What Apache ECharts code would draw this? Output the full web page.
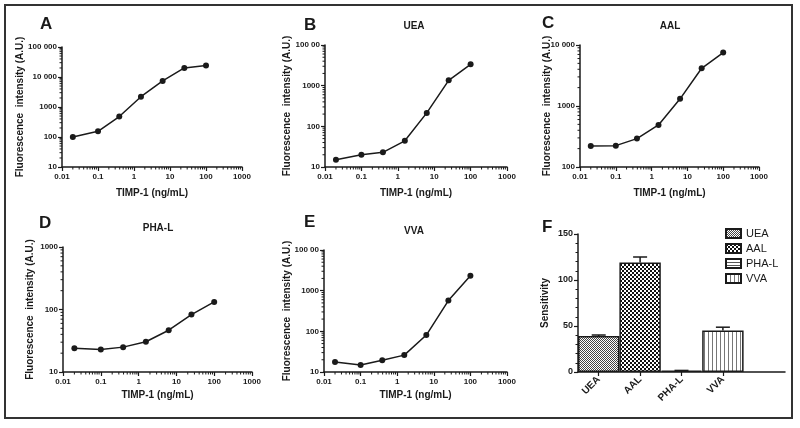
<!DOCTYPE html>
<html><head><meta charset="utf-8">
<script src="https://cdn.jsdelivr.net/npm/echarts@6/dist/echarts.min.js"></script>
<style>html,body{margin:0;padding:0;background:#fff}#c{width:800px;height:428px}</style>
</head><body><div id="c"></div>
<script>
// ---------- data ----------
const concentrations = [0.02, 0.1, 0.39, 1.56, 6.25, 25, 100];
const valuesA = [100, 155, 480, 2200, 7400, 20000, 24000];
const valuesUEA = [15, 20, 23, 44, 214, 1350, 3340];
const valuesAAL = [221, 224, 292, 490, 1310, 4150, 7500];
const valuesPHAL = [24, 23, 25, 30.5, 46.6, 83, 132];
const valuesVVA = [17.6, 14.9, 19.4, 26, 81, 571, 2320];

const xTickLabels = ['0.01', '0.1', '1', '10', '100', '1000']; // 10^-2 .. 10^3
const yTickLabelsA = ['10', '100', '1000', '10 000', '100 000'];
const yTickLabelsB = ['10', '100', '1000', '100 00'];
const yTickLabelsC = ['100', '1000', '10 000'];
const yTickLabelsD = ['10', '100', '1000'];
const yTickLabelsE = ['10', '100', '1000', '100 00'];

const categories = ['UEA', 'AAL', 'PHA-L', 'VVA', ''];
const lectins = ['UEA', 'AAL', 'PHA-L', 'VVA'];
const sensitivity = [39, 119, 1.4, 45];
const sensitivityError = [1.2, 6, 0.3, 3.7];
const sensitivityTicks = [0, 50, 100, 150];

const minorMultipliers = [2, 3, 4, 5, 6, 7, 8, 9];

// ---------- styling / layout ----------
const FONT = 'Liberation Sans, Arial, Helvetica, sans-serif';
const INK = '#1a1a1a';

const panels = [
  { letter: 'A', title: '', values: valuesA, yMin: 10, yMax: 100000, yLabels: yTickLabelsA,
    grid: { left: 62, top: 47, width: 180, height: 120 }, yGap: 37, xGap: 21,
    letterPos: [40, 16], titlePos: null },
  { letter: 'B', title: 'UEA', values: valuesUEA, yMin: 10, yMax: 10000, yLabels: yTickLabelsB,
    grid: { left: 325, top: 45, width: 182, height: 122 }, yGap: 33, xGap: 21,
    letterPos: [304, 17], titlePos: [414, 21] },
  { letter: 'C', title: 'AAL', values: valuesAAL, yMin: 100, yMax: 10000, yLabels: yTickLabelsC,
    grid: { left: 580, top: 45, width: 179, height: 122 }, yGap: 28, xGap: 21,
    letterPos: [542, 15], titlePos: [670, 21] },
  { letter: 'D', title: 'PHA-L', values: valuesPHAL, yMin: 10, yMax: 1000, yLabels: yTickLabelsD,
    grid: { left: 63, top: 247, width: 189, height: 125 }, yGap: 28, xGap: 18,
    letterPos: [39, 215], titlePos: [158, 223] },
  { letter: 'E', title: 'VVA', values: valuesVVA, yMin: 10, yMax: 10000, yLabels: yTickLabelsE,
    grid: { left: 324, top: 250, width: 183, height: 122 }, yGap: 32, xGap: 18,
    letterPos: [304, 214], titlePos: [414, 226] }
];
const gridF = { left: 578, top: 234, width: 207, height: 138 };

function minorValues(min, max) {
  const out = [];
  for (let e = Math.round(Math.log10(min)); e < Math.round(Math.log10(max)); e++) {
    for (const m of minorMultipliers) out.push(m * Math.pow(10, e));
  }
  return out;
}

function makePattern(w, h, draw) {
  const c = document.createElement('canvas');
  c.width = w; c.height = h;
  const ctx = c.getContext('2d');
  ctx.fillStyle = '#fff'; ctx.fillRect(0, 0, w, h);
  draw(ctx);
  return { image: c, repeat: 'repeat' };
}
const patterns = [
  makePattern(2, 2, ctx => { ctx.fillStyle = '#444'; ctx.fillRect(0, 0, 1, 1); ctx.fillRect(1, 1, 1, 1); }),
  makePattern(4, 4, ctx => { ctx.fillStyle = '#111'; ctx.fillRect(0, 0, 2, 2); ctx.fillRect(2, 2, 2, 2); }),
  makePattern(3, 3, ctx => { ctx.fillStyle = '#555'; ctx.fillRect(0, 0, 3, 1); }),
  makePattern(4, 4, ctx => { ctx.fillStyle = '#777'; ctx.fillRect(0, 0, 1, 4); })
];

const axisLine = { show: true, lineStyle: { color: INK, width: 1.5 } };
const axisTick = { show: true, length: 4, lineStyle: { color: INK, width: 1.2 } };
const labelStyle = { fontSize: 8, fontWeight: 'bold', color: INK, fontFamily: FONT };
const nameStyle = { fontSize: 10, fontWeight: 'bold', color: INK, fontFamily: FONT };

const grids = [], xAxes = [], yAxes = [], series = [], titles = [];

panels.forEach((p, i) => {
  grids.push(p.grid);
  xAxes.push({
    type: 'log', logBase: 10, gridIndex: i, min: 0.01, max: 1000,
    name: 'TIMP-1 (ng/mL)', nameLocation: 'middle', nameGap: p.xGap, nameMoveOverlap: false,
    nameTextStyle: nameStyle,
    axisLine, axisTick, splitLine: { show: false }, minorTick: { show: false },
    axisLabel: Object.assign({ margin: 6, showMinLabel: true, showMaxLabel: true,
      formatter: v => xTickLabels[Math.round(Math.log10(v)) + 2] }, labelStyle)
  });
  const yLo = Math.round(Math.log10(p.yMin));
  yAxes.push({
    type: 'log', logBase: 10, gridIndex: i, min: p.yMin, max: p.yMax,
    name: 'Fluorescence  intensity (A.U.)', nameLocation: 'middle', nameGap: p.yGap, nameMoveOverlap: false,
    nameTextStyle: nameStyle,
    axisLine, axisTick, splitLine: { show: false }, minorTick: { show: false },
    axisLabel: Object.assign({ margin: 5, showMinLabel: true, showMaxLabel: true,
      formatter: v => p.yLabels[Math.round(Math.log10(v)) - yLo] }, labelStyle)
  });
  series.push({
    type: 'line', xAxisIndex: i, yAxisIndex: i,
    data: concentrations.map((x, k) => [x, p.values[k]]),
    symbol: 'circle', symbolSize: 6, showSymbol: true,
    lineStyle: { color: INK, width: 1.5 }, itemStyle: { color: INK },
    animation: false, z: 5
  });
  // minor ticks on the log x axis
  series.push({
    type: 'custom', xAxisIndex: i, yAxisIndex: i, clip: false, silent: true, animation: false,
    data: minorValues(0.01, 1000).map(v => [v, p.yMin]),
    renderItem: (params, api) => {
      const pt = api.coord([api.value(0), api.value(1)]);
      return { type: 'line', shape: { x1: pt[0], y1: pt[1], x2: pt[0], y2: pt[1] + 2.5 },
        style: { stroke: INK, lineWidth: 1 } };
    }
  });
  // minor ticks on the log y axis
  series.push({
    type: 'custom', xAxisIndex: i, yAxisIndex: i, clip: false, silent: true, animation: false,
    data: minorValues(p.yMin, p.yMax).map(v => [0.01, v]),
    renderItem: (params, api) => {
      const pt = api.coord([api.value(0), api.value(1)]);
      return { type: 'line', shape: { x1: pt[0] - 2.5, y1: pt[1], x2: pt[0], y2: pt[1] },
        style: { stroke: INK, lineWidth: 1 } };
    }
  });
  titles.push({ text: p.letter, left: p.letterPos[0], top: p.letterPos[1], padding: 0,
    textStyle: { fontSize: 17, fontWeight: 'bold', color: INK, fontFamily: FONT } });
  if (p.title) {
    titles.push({ text: p.title, left: p.titlePos[0], top: p.titlePos[1], padding: 0, textAlign: 'center',
      textStyle: { fontSize: 10, fontWeight: 'bold', color: INK, fontFamily: FONT } });
  }
});

// ---------- panel F ----------
const fi = panels.length;
grids.push(gridF);
xAxes.push({
  type: 'category', gridIndex: fi, data: categories, boundaryGap: true,
  axisLine, axisTick: Object.assign({}, axisTick, { alignWithLabel: true, interval: (idx, val) => val !== '' }),
  axisLabel: { rotate: 45, margin: 6, fontSize: 10, fontWeight: 'bold', color: INK, fontFamily: FONT, interval: 0 }
});
yAxes.push({
  type: 'value', gridIndex: fi, min: sensitivityTicks[0], max: sensitivityTicks[sensitivityTicks.length - 1],
  interval: sensitivityTicks[1] - sensitivityTicks[0],
  name: 'Sensitivity', nameLocation: 'middle', nameGap: 28, nameMoveOverlap: false, nameTextStyle: nameStyle,
  axisLine, axisTick, splitLine: { show: false },
  minorTick: { show: true, splitNumber: 5, length: 2.5, lineStyle: { color: INK, width: 1 } },
  axisLabel: Object.assign({ margin: 5 }, labelStyle, { fontSize: 9 })
});
lectins.forEach((name, i) => {
  series.push({
    type: 'bar', name, xAxisIndex: fi, yAxisIndex: fi,
    data: categories.map((c, j) => (j === i ? sensitivity[i] : '-')),
    barWidth: '100%', barGap: '-100%',
    itemStyle: { color: patterns[i], borderColor: INK, borderWidth: 1.5 },
    animation: false, z: 2
  });
});
series.push({
  type: 'custom', xAxisIndex: fi, yAxisIndex: fi, clip: false, silent: true, animation: false, z: 4,
  data: lectins.map((n, i) => [i, sensitivity[i], sensitivityError[i]]),
  renderItem: (params, api) => {
    const base = api.coord([api.value(0), api.value(1)]);
    const top = api.coord([api.value(0), api.value(1) + api.value(2)]);
    const half = 7;
    return { type: 'group', children: [
      { type: 'line', shape: { x1: base[0], y1: base[1], x2: top[0], y2: top[1] }, style: { stroke: INK, lineWidth: 1.5 } },
      { type: 'line', shape: { x1: top[0] - half, y1: top[1], x2: top[0] + half, y2: top[1] }, style: { stroke: INK, lineWidth: 1.5 } }
    ] };
  }
});
titles.push({ text: 'F', left: 542, top: 219, padding: 0,
  textStyle: { fontSize: 17, fontWeight: 'bold', color: INK, fontFamily: FONT } });

const chart = echarts.init(document.getElementById('c'), null, { renderer: 'canvas' });
chart.setOption({
  backgroundColor: '#fff',
  animation: false,
  title: titles,
  grid: grids,
  xAxis: xAxes,
  yAxis: yAxes,
  series,
  legend: {
    data: lectins, orient: 'vertical', left: 725, top: 228, padding: 0, itemGap: 4,
    itemWidth: 15, itemHeight: 9, icon: 'rect', selectedMode: false,
    textStyle: { fontSize: 11, color: INK, fontFamily: FONT }
  },
  graphic: [{
    type: 'rect', shape: { x: 5, y: 5, width: 787, height: 413 }, silent: true,
    style: { fill: 'none', stroke: '#333', lineWidth: 2 }
  }]
});
</script></body></html>
